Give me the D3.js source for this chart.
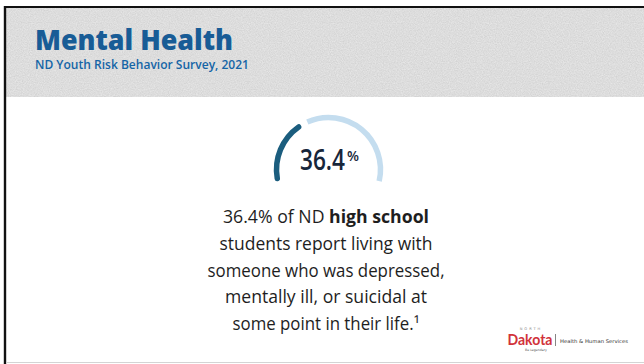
<!DOCTYPE html>
<html>
<head>
<meta charset="utf-8">
<script src="https://cdn.jsdelivr.net/npm/d3@7"></script>
<style>
  html, body { margin: 0; padding: 0; background: #fff; }
  svg { display: block; }
</style>
</head>
<body>
<svg id="chart" width="644" height="364"></svg>
<script>
// ---- content ----
const title = "Mental Health";
const subtitle = "ND Youth Risk Behavior Survey, 2021";
const shareValues = [36.4];          // % of ND high school students
const gaugeDomain = [0, 100];
const statementTail = [
  "students report living with",
  "someone who was depressed,",
  "mentally ill, or suicidal at",
  "some point in their life.\u00b9"
];
const logoWords = ["NORTH", "Dakota", "Health & Human Services", "Be Legendary"];

const svg = d3.select("#chart");
const W = 644, H = 364;
const value = shareValues[0];

// ---- defs: paper grain for the header band ----
const defs = svg.append("defs");
const grain = defs.append("filter").attr("id", "grain")
  .attr("x", 0).attr("y", 0).attr("width", "100%").attr("height", "100%");
grain.append("feTurbulence").attr("type", "fractalNoise")
  .attr("baseFrequency", 0.85).attr("numOctaves", 2).attr("seed", 7).attr("result", "noise");
grain.append("feColorMatrix").attr("in", "noise").attr("type", "matrix")
  .attr("values", "1 0 0 0 0  1 0 0 0 0  1 0 0 0 0  0 0 0 0 0.22").attr("result", "grey");
grain.append("feComposite").attr("in", "grey").attr("in2", "SourceGraphic").attr("operator", "atop");

// ---- frame and header ----
svg.append("rect").attr("x", 0).attr("y", 0).attr("width", W).attr("height", H).attr("fill", "#ffffff");
svg.append("rect").attr("x", 6).attr("y", 8).attr("width", W - 6).attr("height", 89)
  .attr("fill", "#e5e5e5").attr("filter", "url(#grain)");
svg.append("line").attr("x1", 4).attr("x2", W).attr("y1", 7).attr("y2", 7)
  .attr("stroke", "#111").attr("stroke-width", 2.2);
svg.append("line").attr("x1", 5).attr("x2", 5).attr("y1", 6).attr("y2", H)
  .attr("stroke", "#111").attr("stroke-width", 2.4);
svg.append("line").attr("x1", 6).attr("x2", W).attr("y1", 362.5).attr("y2", 362.5)
  .attr("stroke", "#d4d4d4").attr("stroke-width", 1);

const sans = "'Open Sans', 'Noto Sans', sans-serif";

svg.append("text").attr("x", 35).attr("y", 49.5)
  .attr("font-family", sans).attr("font-weight", 800).attr("font-size", 28)
  .attr("fill", "#185c96")
  .attr("textLength", 198).attr("lengthAdjust", "spacingAndGlyphs")
  .text(title);

svg.append("text").attr("x", 35).attr("y", 69)
  .attr("font-family", sans).attr("font-weight", 600).attr("font-size", 12)
  .attr("fill", "#1565a6")
  .attr("textLength", 214).attr("lengthAdjust", "spacingAndGlyphs")
  .text(subtitle);

// ---- gauge ----
const cx = 328.5, cy = 169.5, r = 52, band = 5.5;
const sweep = 103 * Math.PI / 180;
const angle = d3.scaleLinear().domain(gaugeDomain).range([-sweep, sweep]);
const gap = 8 * Math.PI / 180;

const arc = d3.arc().innerRadius(r - band / 2).outerRadius(r + band / 2);
const gauge = svg.append("g").attr("transform", `translate(${cx},${cy})`);

gauge.append("path")
  .attr("d", arc({ startAngle: angle(value) + gap / 2, endAngle: angle(gaugeDomain[1]) }))
  .attr("fill", "#c4ddef");
gauge.append("path")
  .attr("d", arc.cornerRadius(band / 2)({ startAngle: angle(gaugeDomain[0]), endAngle: angle(value) - gap / 2 }))
  .attr("fill", "#1b5d7e");

// centre figure: a horizontally narrowed number, then a raised smaller percent sign
const numWidth = 45;
const num = svg.append("text")
  .attr("font-family", sans).attr("font-weight", 600).attr("font-size", 28)
  .attr("fill", "#17263a")
  .text(value.toFixed(1));
const sx = numWidth / num.node().getComputedTextLength();
num.attr("transform", `translate(300,170) scale(${sx.toFixed(3)},1)`);

const pct = svg.append("text")
  .attr("font-family", sans).attr("font-weight", 600).attr("font-size", 15)
  .attr("fill", "#17263a")
  .text("%");
const px = 12 / pct.node().getComputedTextLength();
pct.attr("transform", `translate(${300 + numWidth + 2},161) scale(${px.toFixed(3)},1)`);

// ---- statement ----
const lineY = [223, 250, 277, 303, 330];
const lineW = [206, 213, 237, 202, 187];
const lineX = 326;

const first = svg.append("text").attr("x", lineX).attr("y", lineY[0])
  .attr("text-anchor", "middle").attr("font-family", sans)
  .attr("font-size", 18).attr("fill", "#1e1e1e");
first.append("tspan").text(`${value}% of ND `);
first.append("tspan").attr("font-weight", 700).text("high school");
first.attr("textLength", lineW[0]).attr("lengthAdjust", "spacingAndGlyphs");

statementTail.forEach((t, i) => {
  svg.append("text").attr("x", lineX).attr("y", lineY[i + 1])
    .attr("text-anchor", "middle").attr("font-family", sans)
    .attr("font-size", 18).attr("fill", "#1e1e1e")
    .attr("textLength", lineW[i + 1]).attr("lengthAdjust", "spacingAndGlyphs")
    .text(t);
});

// ---- agency mark ----
const logo = svg.append("g");
logo.append("text").attr("x", 531).attr("y", 330).attr("text-anchor", "middle")
  .attr("font-family", "'DejaVu Sans', sans-serif").attr("font-size", 3.6)
  .attr("letter-spacing", 2).attr("fill", "#8a8a8a").text(logoWords[0]);
logo.append("text").attr("x", 530).attr("y", 345).attr("text-anchor", "middle")
  .attr("font-family", "'Lato', 'DejaVu Sans', sans-serif").attr("font-weight", 700)
  .attr("font-size", 15.5).attr("fill", "#d1323a")
  .attr("textLength", 45).attr("lengthAdjust", "spacingAndGlyphs").text(logoWords[1]);
logo.append("line").attr("x1", 555.5).attr("x2", 555.5).attr("y1", 334).attr("y2", 346)
  .attr("stroke", "#666").attr("stroke-width", 0.8);
logo.append("text").attr("x", 560).attr("y", 342.5)
  .attr("font-family", "'DejaVu Sans', sans-serif").attr("font-size", 5)
  .attr("fill", "#333").attr("textLength", 68).attr("lengthAdjust", "spacingAndGlyphs")
  .text(logoWords[2]);
logo.append("text").attr("x", 536).attr("y", 351).attr("text-anchor", "middle")
  .attr("font-family", "'DejaVu Sans', sans-serif").attr("font-size", 3.2)
  .attr("fill", "#555").text(logoWords[3]);
</script>
</body>
</html>
